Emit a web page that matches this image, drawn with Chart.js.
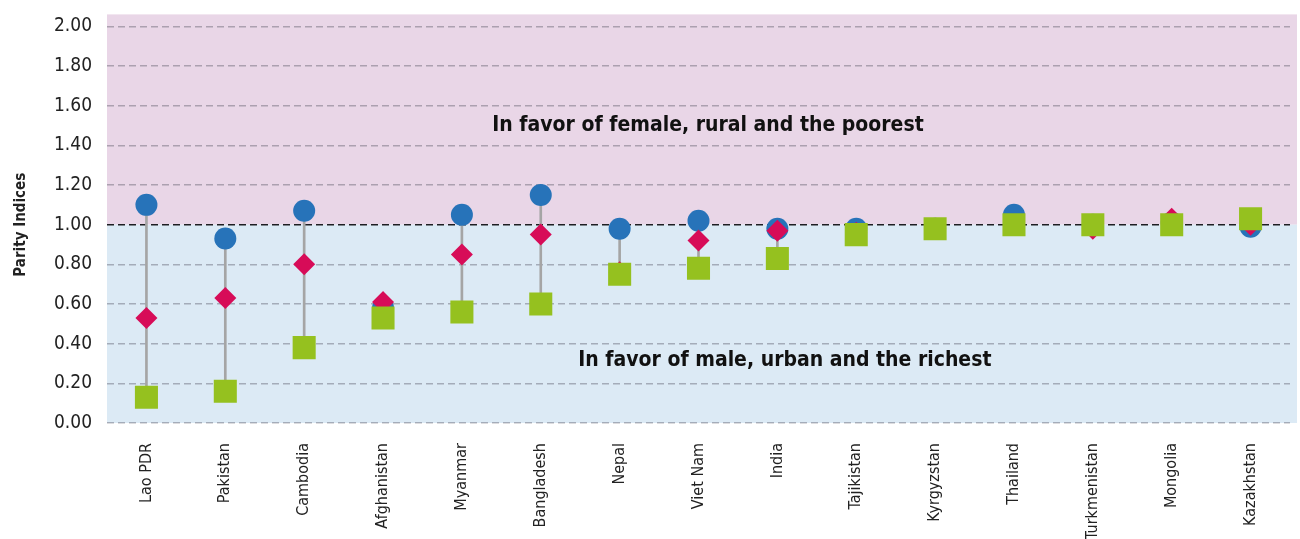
<!DOCTYPE html>
<html>
<head>
<meta charset="utf-8">
<title>Parity Indices</title>
<script src="https://cdn.jsdelivr.net/npm/chart.js@4.4.1/dist/chart.umd.min.js"></script>
<style>
  html, body { margin: 0; padding: 0; background: #fff; }
</style>
</head>
<body>
<canvas id="chart" width="1300" height="539"></canvas>
<script>
// Parity indices by country
const countries = [
  "Lao PDR", "Pakistan", "Cambodia", "Afghanistan", "Myanmar",
  "Bangladesh", "Nepal", "Viet Nam", "India", "Tajikistan",
  "Kyrgyzstan", "Thailand", "Turkmenistan", "Mongolia", "Kazakhstan",
];
const genderParity = [1.10, 0.93, 1.07, 0.58, 1.05, 1.15, 0.98, 1.02, 0.98, 0.98, 0.98, 1.05, 1.00, 1.01, 0.99];
const locationParity = [0.53, 0.63, 0.80, 0.61, 0.85, 0.95, 0.76, 0.92, 0.97, 0.96, 0.98, 1.00, 0.98, 1.03, 1.00];
const wealthParity = [0.13, 0.16, 0.38, 0.53, 0.56, 0.60, 0.75, 0.78, 0.83, 0.95, 0.98, 1.00, 1.00, 1.00, 1.03];
const yTicks = [0, 0.2, 0.4, 0.6, 0.8, 1.0, 1.2, 1.4, 1.6, 1.8, 2.0];

// vertical connector from lowest to highest index per country
const ranges = countries.map((c, i) => {
  const vals = [genderParity[i], locationParity[i], wealthParity[i]];
  return [Math.min(...vals), Math.max(...vals)];
});

const FONT = '"Liberation Sans Narrow", "DejaVu Sans Condensed", "Roboto Condensed", Arial, sans-serif';
Chart.defaults.font.family = FONT;
Chart.defaults.color = "#222";

// pink above parity, blue below
const zoneShading = {
  id: "zoneShading",
  beforeDraw(chart) {
    const { ctx, chartArea: a, scales: { y } } = chart;
    const mid = y.getPixelForValue(1);
    const w = a.right - a.left + 7;
    ctx.save();
    ctx.fillStyle = "#e9d6e7";
    ctx.fillRect(a.left, a.top - 12, w, mid - a.top + 12);
    ctx.fillStyle = "#dceaf5";
    ctx.fillRect(a.left, mid, w, a.bottom - mid);
    ctx.restore();
  },
};

const zoneLabels = {
  id: "zoneLabels",
  afterDatasetsDraw(chart) {
    const { ctx, chartArea: a, scales: { y } } = chart;
    const w = a.right - a.left;
    ctx.save();
    ctx.fillStyle = "#111";
    ctx.font = "bold 21px " + FONT;
    ctx.textAlign = "center";
    ctx.textBaseline = "middle";
    ctx.fillText("In favor of female, rural and the poorest", a.left + w * 0.508, y.getPixelForValue(1.5));
    ctx.fillText("In favor of male, urban and the richest", a.left + w * 0.573, y.getPixelForValue(0.315));
    ctx.restore();
  },
};

const pointSet = (label, data, color, style, radius, order) => ({
  type: "line",
  label: label,
  data: data,
  showLine: false,
  pointStyle: style,
  pointRadius: radius,
  pointHoverRadius: radius,
  pointBackgroundColor: color,
  pointBorderWidth: 0,
  order: order,
});

new Chart(document.getElementById("chart"), {
  data: {
    labels: countries,
    datasets: [
      {
        type: "bar",
        label: "range",
        data: ranges,
        backgroundColor: "#a5a5a5",
        barThickness: 2,
        order: 4,
      },
      pointSet("Gender", genderParity, "#2773b9", "circle", 11, 3),
      pointSet("Location", locationParity, "#d70c58", "rectRot", 11, 2),
      pointSet("Wealth", wealthParity, "#95c11f", "rect", 16.3, 1),
    ],
  },
  options: {
    responsive: false,
    animation: false,
    layout: {
      autoPadding: false,
      padding: { top: 22, right: 10, left: 0, bottom: 0 },
    },
    plugins: {
      legend: { display: false },
      tooltip: { enabled: false },
    },
    scales: {
      x: {
        offset: true,
        grid: { display: false, drawTicks: false },
        border: { display: false },
        ticks: {
          autoSkip: false,
          maxRotation: 90,
          minRotation: 90,
          padding: 20,
          font: { size: 16 },
        },
        afterFit: (s) => {
          s.height = 116;
          s.paddingLeft = 0;
          s.paddingRight = 0;
        },
      },
      y: {
        min: 0,
        max: 2,
        afterBuildTicks: (s) => { s.ticks = yTicks.map((v) => ({ value: v })); },
        grid: {
          drawTicks: false,
          lineWidth: 1.5,
          color: (c) => Math.abs(c.tick.value - 1) < 1e-6 ? "#1e1e22" : "rgba(80,80,95,0.4)",
        },
        border: { display: false, dash: [7, 4] },
        ticks: {
          padding: 15,
          font: { size: 19 },
          callback: (v) => Number(v).toFixed(2),
        },
        title: {
          display: true,
          text: "Parity Indices",
          font: { size: 15, weight: "bold" },
          padding: { top: 12, bottom: 0 },
        },
        afterFit: (s) => { s.width = 107; },
      },
    },
  },
  plugins: [zoneShading, zoneLabels],
});
</script>
</body>
</html>
